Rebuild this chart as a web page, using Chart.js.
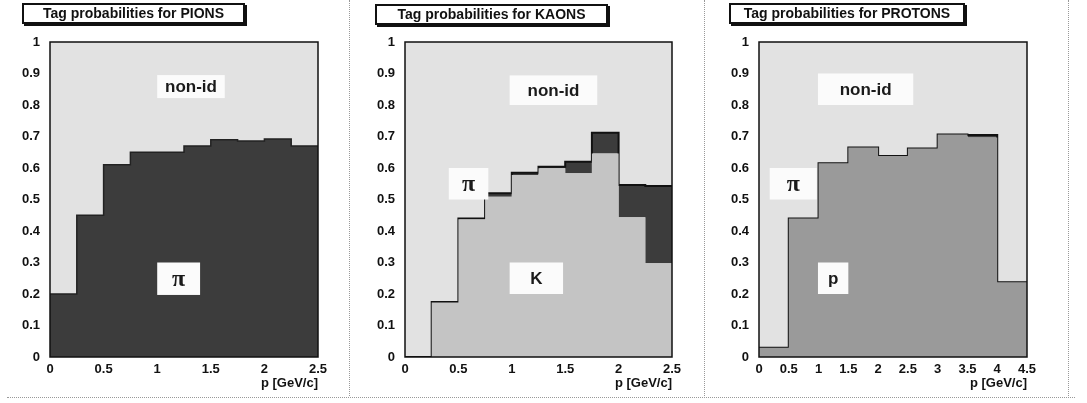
<!DOCTYPE html>
<html>
<head>
<meta charset="utf-8">
<script src="https://cdn.jsdelivr.net/npm/chart.js@4.4.1/dist/chart.umd.min.js"></script>
<style>
  body { margin: 0; background: #fff; width: 1087px; height: 403px; position: relative; overflow: hidden; font-family: "Liberation Sans", Arial, sans-serif; }
  .panel { position: absolute; top: 0; height: 403px; }
  .title { position: absolute; box-sizing: border-box; border: 2px solid #111; box-shadow: 2px 2px 0 #111; background: #fff;
           font: bold 14px "Liberation Sans", Arial, sans-serif; color: #111; text-align: center; line-height: 17px; }
  .vsep { position: absolute; top: 0; height: 396px; border-left: 1px dotted #999; }
  .hsep { position: absolute; left: 7px; width: 1068px; top: 397px; border-top: 1px dotted #999; }
</style>
</head>
<body>
<div class="vsep" style="left:349px"></div>
<div class="vsep" style="left:704px"></div>
<div class="vsep" style="left:1068px"></div>
<div class="hsep"></div>

<div class="panel" style="left:0;width:352px"><canvas id="c1"></canvas></div>
<div class="panel" style="left:356px;width:352px"><canvas id="c2"></canvas></div>
<div class="panel" style="left:712px;width:372px"><canvas id="c3"></canvas></div>

<div class="title" style="left:22px;top:3px;width:223px;height:21px">Tag probabilities for PIONS</div>
<div class="title" style="left:375px;top:4px;width:233px;height:21px">Tag probabilities for KAONS</div>
<div class="title" style="left:729px;top:3px;width:236px;height:21px">Tag probabilities for PROTONS</div>

<script>
// bin lower edges in p [GeV/c]
const pionBins   = [0, 0.25, 0.5, 0.75, 1.0, 1.25, 1.5, 1.75, 2.0, 2.25];
const kaonBins   = [0, 0.25, 0.5, 0.75, 1.0, 1.25, 1.5, 1.75, 2.0, 2.25];
const protonBins = [0, 0.5, 1.0, 1.5, 2.0, 2.5, 3.0, 3.5, 4.0];
const pionMax = 2.5, kaonMax = 2.5, protonMax = 4.5;

// tag probabilities
const pionsAsPi   = [0.20, 0.45, 0.61, 0.65, 0.65, 0.67, 0.69, 0.686, 0.692, 0.67];
const kaonsAsK    = [0.0, 0.173, 0.437, 0.509, 0.578, 0.599, 0.583, 0.646, 0.444, 0.298];
const kaonsAsPi   = [0.0, 0.002, 0.003, 0.011, 0.007, 0.005, 0.037, 0.066, 0.102, 0.245];
const protonsAsP  = [0.029, 0.44, 0.615, 0.665, 0.638, 0.662, 0.706, 0.697, 0.237];
const protonsAsPi = [0, 0, 0, 0, 0, 0, 0, 0.008, 0];

const colNonId = '#e2e2e2';
const colPi = '#3c3c3c';
const colK = '#c4c4c4';
const colP = '#9a9a9a';

// histogram -> points at bin edges; each bin takes the value of its lower edge
function steps(bins, vals, xMax) {
  const pts = [{x: bins[0], y: vals[0]}];
  bins.forEach((x, i) => pts.push({x: i + 1 < bins.length ? bins[i + 1] : xMax, y: vals[i]}));
  return pts;
}

const boxPlugin = {
  id: 'boxes',
  beforeDatasetsDraw(chart) {
    const a = chart.chartArea, ctx = chart.ctx;
    ctx.save();
    ctx.fillStyle = chart.options.plugins.boxes.bg;
    ctx.fillRect(a.left, a.top, a.right - a.left, a.bottom - a.top);
    ctx.restore();
  },
  afterDatasetsDraw(chart) {
    const a = chart.chartArea, ctx = chart.ctx;
    const xs = chart.scales.x, ys = chart.scales.y;
    ctx.save();
    chart.options.plugins.boxes.labels.forEach(l => {
      const x0 = xs.getPixelForValue(l.x0), x1 = xs.getPixelForValue(l.x1);
      const y0 = ys.getPixelForValue(l.y1), y1 = ys.getPixelForValue(l.y0);
      ctx.fillStyle = '#fbfbfb';
      ctx.fillRect(x0, y0, x1 - x0, y1 - y0);
      ctx.fillStyle = '#1a1a1a';
      ctx.font = l.font;
      ctx.textAlign = 'center';
      ctx.textBaseline = 'middle';
      ctx.fillText(l.text, (x0 + x1) / 2, (y0 + y1) / 2 + 1);
    });
    ctx.strokeStyle = '#111';
    ctx.lineWidth = 1.5;
    ctx.strokeRect(a.left, a.top, a.right - a.left, a.bottom - a.top);
    ctx.restore();
  }
};

const labFont = 'bold 17px "Liberation Sans", Arial, sans-serif';
const piFont = 'bold 24px "Liberation Serif", "Times New Roman", serif';
const tickFont = {family: '"Liberation Sans", Arial, sans-serif', size: 13, weight: 'bold'};

function makeChart(id, width, plotLeft, plotRight, xMax, datasets, labels) {
  const el = document.getElementById(id);
  el.width = width; el.height = 403;
  el.style.width = width + 'px'; el.style.height = '403px';
  return new Chart(el, {
    type: 'line',
    data: {datasets: datasets},
    options: {
      responsive: false,
      animation: false,
      layout: {padding: {top: 42, right: width - plotRight, left: 0, bottom: 0}},
      elements: {point: {radius: 0}},
      plugins: {
        legend: {display: false},
        tooltip: {enabled: false},
        boxes: {bg: colNonId, labels: labels}
      },
      scales: {
        x: {
          type: 'linear', min: 0, max: xMax,
          grid: {display: false},
          border: {display: false},
          ticks: {stepSize: 0.5, padding: -3, color: '#111', maxRotation: 0, font: tickFont,
                  callback: v => String(v)},
          title: {display: true, text: 'p [GeV/c]', align: 'end', color: '#111', padding: {top: 0, bottom: 12},
                  font: tickFont},
          afterFit(s) { s.height = 46; }
        },
        y: {
          min: 0, max: 1, stacked: true,
          grid: {display: false},
          border: {display: false},
          ticks: {stepSize: 0.1, padding: 2, color: '#111', font: tickFont,
                  callback: v => (v === 0 ? '0' : v === 1 ? '1' : v.toFixed(1))},
          afterFit(s) { s.width = plotLeft; }
        }
      }
    },
    plugins: [boxPlugin]
  });
}

makeChart('c1', 352, 50, 318, pionMax, [
  {data: steps(pionBins, pionsAsPi, pionMax), stepped: 'after', fill: 'origin',
   backgroundColor: colPi, borderColor: '#222', borderWidth: 1.5}
], [
  {text: 'non-id', x0: 1.0, x1: 1.63, y0: 0.822, y1: 0.895, font: labFont},
  {text: 'π', x0: 1.0, x1: 1.4, y0: 0.197, y1: 0.30, font: piFont}
]);

makeChart('c2', 352, 49, 316, kaonMax, [
  {data: steps(kaonBins, kaonsAsK, kaonMax), stepped: 'after', fill: 'origin',
   backgroundColor: colK, borderColor: colK, borderWidth: 0},
  {data: steps(kaonBins, kaonsAsPi, kaonMax), stepped: 'after', fill: '-1',
   backgroundColor: colPi, borderColor: '#111', borderWidth: 2}
], [
  {text: 'non-id', x0: 0.98, x1: 1.80, y0: 0.80, y1: 0.894, font: labFont},
  {text: 'π', x0: 0.41, x1: 0.78, y0: 0.50, y1: 0.60, font: piFont},
  {text: 'K', x0: 0.98, x1: 1.48, y0: 0.20, y1: 0.30, font: labFont}
]);

makeChart('c3', 372, 47, 315, protonMax, [
  {data: steps(protonBins, protonsAsP, protonMax), stepped: 'after', fill: 'origin',
   backgroundColor: colP, borderColor: colP, borderWidth: 0},
  {data: steps(protonBins, protonsAsPi, protonMax), stepped: 'after', fill: '-1',
   backgroundColor: colPi, borderColor: '#111', borderWidth: 2}
], [
  {text: 'non-id', x0: 0.99, x1: 2.59, y0: 0.80, y1: 0.90, font: labFont},
  {text: 'π', x0: 0.18, x1: 0.97, y0: 0.50, y1: 0.60, font: piFont},
  {text: 'p', x0: 0.99, x1: 1.50, y0: 0.20, y1: 0.30, font: labFont}
]);
</script>
</body>
</html>
